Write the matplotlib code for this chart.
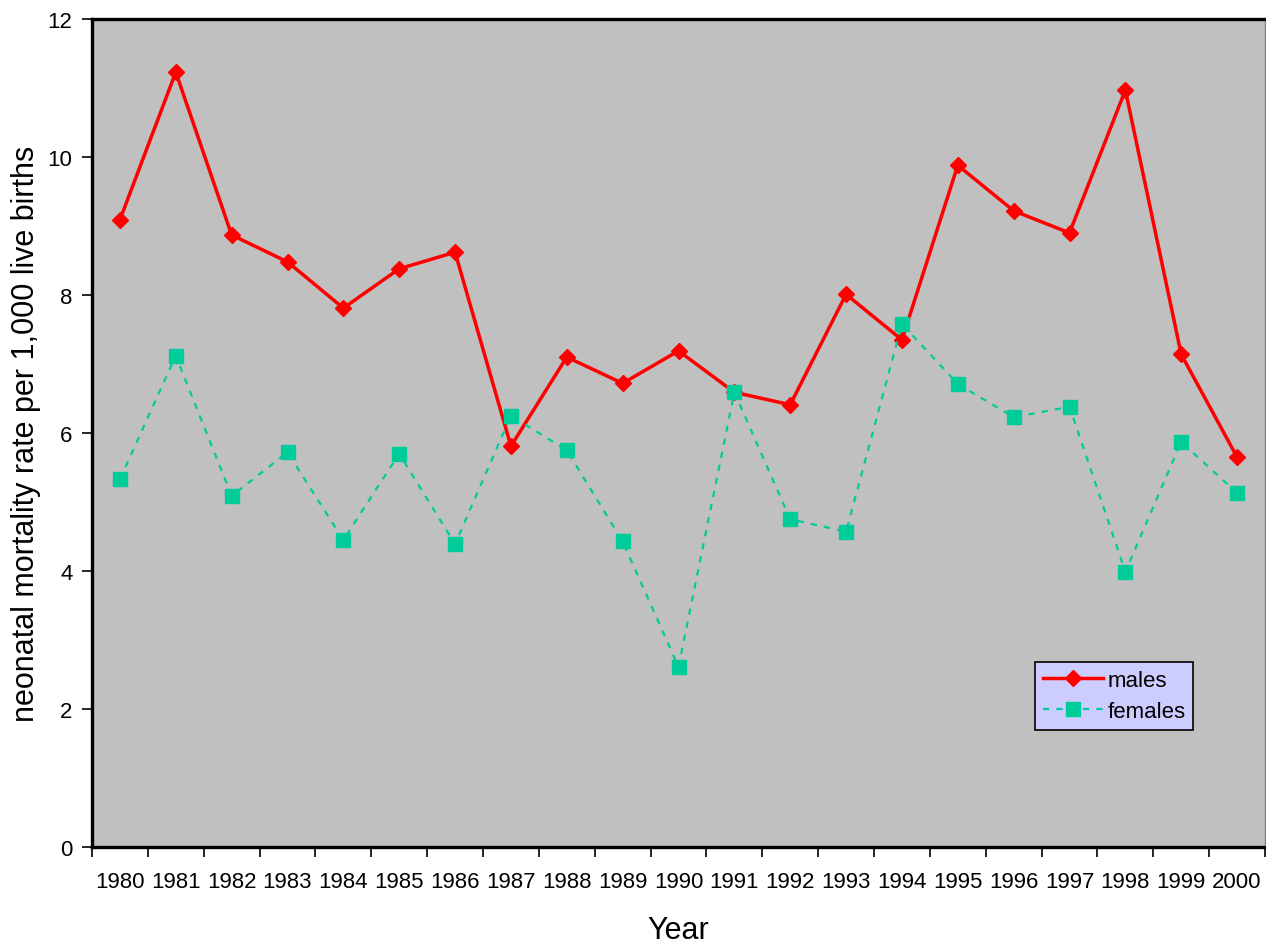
import numpy as np
import matplotlib
matplotlib.use("Agg")
from matplotlib import pyplot as plt

years = [str(y) for y in range(1980, 2001)]
males = [9.09, 11.23, 8.87, 8.48, 7.81, 8.38, 8.62, 5.81, 7.10, 6.72, 7.19,
         6.59, 6.41, 8.01, 7.35, 9.88, 9.22, 8.90, 10.97, 7.14, 5.65]
females = [5.33, 7.12, 5.09, 5.72, 4.45, 5.70, 4.39, 6.25, 5.75, 4.43, 2.61,
           6.59, 4.75, 4.57, 7.58, 6.71, 6.23, 6.38, 3.99, 5.87, 5.13]

plt.rcParams['font.family'] = ['Liberation Sans', 'DejaVu Sans']

fig = plt.figure(figsize=(12.66, 9.45), dpi=100)
ax = fig.add_axes([92/1266, 1-848/945, 1173/1266, 828/945])
ax.set_facecolor('#c0c0c0')

x = np.arange(len(years))
ax.plot(x, males, color='#ff0000', lw=2.5, marker='D', ms=8.5, label='males')
ax.plot(x, females, color='#00cc99', lw=1.6, ls=(0, (2.8, 3.2)), marker='s', ms=9.5,
        label='females')

ax.set_xlim(-0.5, len(years) - 0.5)
ax.set_ylim(0, 12)
ax.set_yticks(np.arange(0, 13, 2))
ax.set_xticks(np.arange(-0.5, len(years), 1))
ax.set_xticklabels([])
ax.set_xticks(x, minor=True)
ax.set_xticklabels(years, minor=True)
ax.tick_params(axis='x', which='major', direction='out', length=7, width=1.2)
ax.tick_params(axis='x', which='minor', length=0, pad=17, labelsize=16)
ax.tick_params(axis='y', direction='out', length=7, width=1.2, pad=7, labelsize=16)

for s in ['left', 'bottom', 'top']:
    ax.spines[s].set_linewidth(2.4)
    ax.spines[s].set_color('black')
ax.spines['right'].set_linewidth(1)
ax.spines['right'].set_color('#808080')

ax.set_xlabel('Year', fontsize=22, labelpad=17)
ax.set_ylabel('neonatal mortality rate per 1,000 live births', fontsize=22, labelpad=5)

leg = ax.legend(loc='upper left', bbox_to_anchor=(0.804, 0.223), borderaxespad=0,
                fontsize=16, frameon=True, fancybox=False,
                facecolor='#ccccff', edgecolor='black', framealpha=1,
                handlelength=2.7, handletextpad=0.2, borderpad=0.35, labelspacing=0.45)
leg.get_frame().set_linewidth(1.2)

fig.savefig('out.png', dpi=100)
